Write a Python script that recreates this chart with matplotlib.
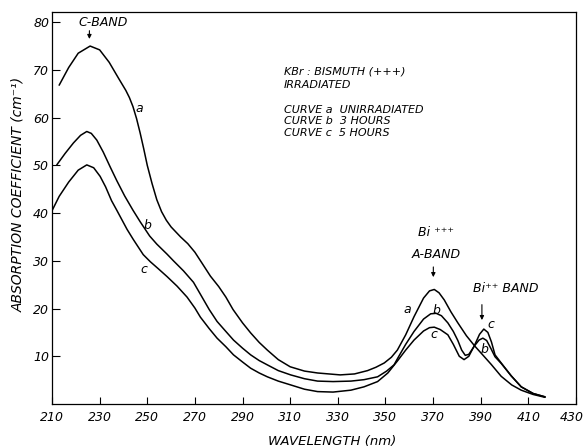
import matplotlib
matplotlib.use("Agg")
import matplotlib.pyplot as plt
from matplotlib.transforms import ScaledTranslation

# Absorption spectra of KBr:Bi after X-irradiation
wl_a = [213, 217, 221, 226, 230, 234, 238, 241, 242.5, 244, 245.5, 247, 248.5, 250,
        252, 254, 256, 258, 260, 264, 267, 270, 273, 276.5, 280, 283, 286, 290, 293.4,
        297, 300.4, 305, 310, 316, 321.5, 331, 337, 342.5, 346, 349.5, 352.5, 355,
        358.5, 362, 366, 368.5, 370.5, 372.5, 374.7, 377.5, 380.4, 384, 387.4, 391,
        394.4, 398.6, 403, 407, 412, 417]
abs_a = [66.8, 70.5, 73.5, 75.0, 74.2, 71.6, 68.2, 65.7, 64.2, 62.3, 59.8, 56.8, 53.5,
         50.0, 46.2, 42.8, 40.3, 38.5, 37.1, 35.0, 33.6, 31.8, 29.5, 26.8, 24.6, 22.4,
         19.8, 17.0, 14.9, 12.9, 11.3, 9.3, 7.8, 6.9, 6.5, 6.1, 6.3, 7.0, 7.7, 8.6, 9.8,
         11.3, 14.5, 18.3, 22.2, 23.7, 24.0, 23.3, 21.8, 19.3, 17.0, 14.3, 12.2, 10.2,
         8.3, 5.8, 4.0, 2.9, 2.0, 1.4]

wl_b = [212, 215.5, 219, 222, 224.6, 226.5, 228.8, 231.5, 234.4, 237.2, 240.5, 244,
        247, 251, 254, 258.3, 261, 265.2, 269.4, 272.3, 276, 279.3, 283, 286.2, 290,
        293.4, 297, 300.4, 305, 310.2, 316, 321.5, 328, 335.5, 341, 346.7, 350.5, 353.6,
        355.5, 358.5, 362, 366, 369, 371.3, 373.5, 376.2, 378.5, 380.4, 382, 383.5, 385,
        387.4, 389.3, 390.9, 392.5, 394.2, 396, 398.6, 402.8, 407, 412, 417]
abs_b = [50.1, 52.5, 54.7, 56.3, 57.1, 56.7, 55.3, 52.8, 49.7, 46.8, 43.6, 40.6, 38.2,
         35.2, 33.5, 31.4, 30.0, 27.9, 25.5, 23.0, 19.8, 17.3, 15.2, 13.4, 11.7, 10.3,
         9.1, 8.2, 7.0, 6.1, 5.3, 4.8, 4.7, 4.8, 5.1, 5.7, 6.9, 8.2, 9.9, 12.5, 15.2,
         17.8, 18.9, 19.0, 18.5, 17.0, 15.2, 13.3, 11.3, 10.2, 10.4, 12.2, 13.4, 13.8,
         13.3, 11.7, 9.9, 8.5, 5.9, 3.6, 2.2, 1.5]

wl_c = [210, 213, 217, 221, 224.6, 227.5, 230.2, 232.5, 235, 237.2, 241.5, 244.1,
        248.3, 251.3, 254.5, 258.3, 262.5, 266.7, 270, 272.3, 276, 279.3, 283, 286.2,
        290, 293.4, 297, 300.4, 305, 310.2, 316, 321.5, 328, 335.5, 341, 346.7, 351,
        355, 358.5, 362, 366, 368.5, 370.5, 373, 376.2, 378.5, 381, 383, 385, 387.4,
        389.5, 391.3, 393, 394.5, 396, 398.6, 402.8, 407, 412, 417]
abs_c = [40.5, 43.5, 46.5, 49.0, 50.1, 49.5, 47.7, 45.5, 42.6, 40.6, 36.6, 34.5, 31.3,
         29.8, 28.4, 26.7, 24.7, 22.4, 20.1, 18.2, 15.8, 13.8, 12.0, 10.3, 8.8, 7.5, 6.5,
         5.7, 4.8, 4.0, 3.1, 2.6, 2.5, 2.9, 3.6, 4.7, 6.5, 9.0, 11.3, 13.4, 15.3, 16.0,
         16.1, 15.6, 14.5, 12.5, 10.0, 9.3, 10.0, 12.3, 14.6, 15.7, 15.0, 13.0, 10.3, 8.6,
         5.9, 3.6, 2.2, 1.5]

x_ticks = [210, 230, 250, 270, 290, 310, 330, 350, 370, 390, 410, 430]
y_ticks = [10, 20, 30, 40, 50, 60, 70, 80]

plt.rcParams['font.family'] = ['DejaVu Sans']
plt.rcParams['font.style'] = 'italic'

fig = plt.figure(figsize=(5.85, 4.48), dpi=100)
ax = fig.add_axes([0.0889, 0.0982, 0.8957, 0.8757])

for wl, ab in ((wl_a, abs_a), (wl_b, abs_b), (wl_c, abs_c)):
    ax.plot(wl, ab, color='black', lw=1.1, solid_joinstyle='round',
            solid_capstyle='round')

ax.set_xlim(210, 430)
ax.set_ylim(0, 82.2)
ax.set_xticks(x_ticks)
ax.set_yticks(y_ticks)
ax.set_xticklabels([str(v) for v in x_ticks], fontsize=9, style='italic')
ax.set_yticklabels([str(v) for v in y_ticks], fontsize=9, style='italic')
ax.tick_params(axis='x', direction='in', length=5, width=0.8, pad=5)
ax.tick_params(axis='y', direction='in', length=6, width=0.8, pad=2)
for sp in ax.spines.values():
    sp.set_linewidth(0.9)

# pull the last x label in so it stays inside the figure
last = ax.get_xticklabels()[-1]
last.set_transform(last.get_transform() + ScaledTranslation(-4 / 100, 0, fig.dpi_scale_trans))

fig.text(18 / 585, 1 - 194 / 448, 'ABSORPTION COEFFICIENT (cm⁻¹)', rotation=90,
         ha='center', va='center', fontsize=10, style='italic')
fig.text(332 / 585, 1 - 441 / 448, 'WAVELENGTH (nm)', ha='center', va='center',
         fontsize=9.5, style='italic')

txt = dict(fontsize=8, style='italic', va='center')
ax.text(307.3, 69.6, 'KBr : BISMUTH (+++)', ha='left', **txt)
ax.text(307.3, 66.9, 'IRRADIATED', ha='left', **txt)
ax.text(307.3, 61.6, 'CURVE a  UNIRRADIATED', ha='left', **txt)
ax.text(307.3, 59.2, 'CURVE b  3 HOURS', ha='left', **txt)
ax.text(307.3, 56.8, 'CURVE c  5 HOURS', ha='left', **txt)

lbl = dict(fontsize=9, style='italic', ha='center', va='center')
ax.text(231.6, 79.9, 'C-BAND', **lbl)
ax.text(371.3, 36.0, 'Bi ⁺⁺⁺', **lbl)
ax.text(371.3, 31.4, 'A-BAND', **lbl)
ax.text(400.7, 24.3, 'Bi⁺⁺ BAND', **lbl)

ax.text(246.8, 62.0, 'a', **lbl)
ax.text(249.9, 37.5, 'b', **lbl)
ax.text(248.4, 28.2, 'c', **lbl)
ax.text(359.3, 19.8, 'a', **lbl)
ax.text(371.3, 19.6, 'b', **lbl)
ax.text(370.3, 14.5, 'c', **lbl)
ax.text(394.4, 16.6, 'c', **lbl)
ax.text(391.6, 11.5, 'b', **lbl)

arrow = dict(arrowstyle='-|>', lw=0.8, color='black', mutation_scale=6)
ax.annotate('', xy=(225.7, 75.9), xytext=(225.7, 78.8), arrowprops=arrow)
ax.annotate('', xy=(370.1, 26.0), xytext=(370.1, 29.3), arrowprops=arrow)
ax.annotate('', xy=(390.5, 17.0), xytext=(390.5, 21.4), arrowprops=arrow)

fig.savefig('out.png', dpi=100)
